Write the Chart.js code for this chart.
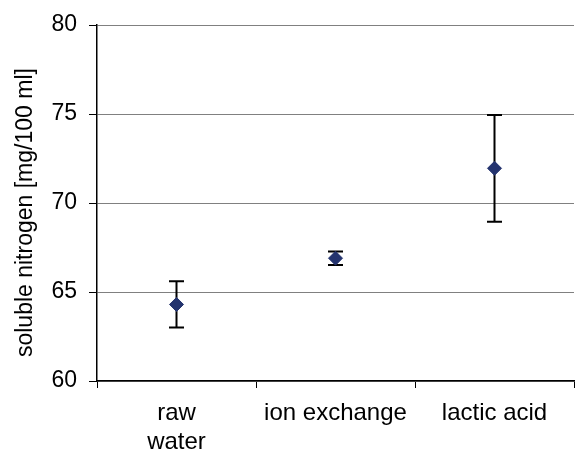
<!DOCTYPE html>
<html>
<head>
<meta charset="utf-8">
<script src="https://cdn.jsdelivr.net/npm/chart.js@4"></script>
<style>
  html, body { margin: 0; padding: 0; background: #fff; overflow: hidden; }
  #wrap { width: 577px; height: 455px; }
</style>
</head>
<body>
<div id="wrap"><canvas id="nChart" width="577" height="455"></canvas></div>
<script>
const categories = [["raw", "water"], "ion exchange", "lactic acid"];
const means = [64.3, 66.9, 71.95];
const errors = [1.3, 0.38, 3.0];
const yTicks = [60, 65, 70, 75, 80];

const FONT = "'Liberation Sans', Arial, sans-serif";

// error bars drawn under the diamonds, using the y scale
const errorBars = {
  id: "errorBars",
  beforeDatasetsDraw(chart) {
    const ctx = chart.ctx;
    const y = chart.scales.y;
    const meta = chart.getDatasetMeta(0);
    ctx.save();
    ctx.strokeStyle = "#000";
    ctx.lineWidth = 2;
    meta.data.forEach((pt, i) => {
      const top = y.getPixelForValue(means[i] + errors[i]);
      const bot = y.getPixelForValue(means[i] - errors[i]);
      ctx.beginPath();
      ctx.moveTo(pt.x, top);
      ctx.lineTo(pt.x, bot);
      ctx.moveTo(pt.x - 7.5, top);
      ctx.lineTo(pt.x + 7.5, top);
      ctx.moveTo(pt.x - 7.5, bot);
      ctx.lineTo(pt.x + 7.5, bot);
      ctx.stroke();
    });
    ctx.restore();
  },
};

const ctx = document.getElementById("nChart").getContext("2d");
new Chart(ctx, {
  type: "line",
  data: {
    labels: categories,
    datasets: [
      {
        data: means,
        showLine: false,
        pointStyle: "rectRot",
        pointRadius: 7,
        pointBackgroundColor: "#23336e",
        pointBorderColor: "#23336e",
        pointBorderWidth: 1,
      },
    ],
  },
  options: {
    responsive: false,
    animation: false,
    layout: { autoPadding: false, padding: { top: 25, right: 3, left: 0, bottom: 0 } },
    plugins: {
      legend: { display: false },
      tooltip: { enabled: false },
    },
    scales: {
      x: {
        offset: true,
        grid: {
          offset: true,
          color: (c) => (c.index === 3 ? "#808080" : "rgba(0,0,0,0)"),
          tickColor: "#000",
          tickLength: 7,
          drawOnChartArea: true,
        },
        border: { color: "#000", width: 1.5 },
        ticks: {
          color: "#000",
          padding: 11,
          maxRotation: 0,
          font: { family: FONT, size: 24, lineHeight: 1.2 },
        },
        afterFit: (scale) => {
          scale.height = 74;
          scale.paddingLeft = 0;
          scale.paddingRight = 0;
        },
      },
      y: {
        min: 60,
        max: 80,
        afterBuildTicks: (scale) => {
          scale.ticks = yTicks.map((v) => ({ value: v }));
        },
        grid: {
          color: "#808080",
          tickColor: "#000",
          tickLength: 8,
        },
        border: { color: "#000", width: 1.5 },
        ticks: {
          color: "#000",
          padding: 12,
          font: { family: FONT, size: 23 },
        },
        title: {
          display: true,
          text: "soluble nitrogen [mg/100 ml]   ",
          color: "#000",
          padding: { top: 12, bottom: 0 },
          font: { family: FONT, size: 23 },
        },
        afterFit: (scale) => {
          scale.width = 97;
          scale.paddingTop = 0;
          scale.paddingBottom = 0;
        },
      },
    },
  },
  plugins: [errorBars],
});
</script>
</body>
</html>
